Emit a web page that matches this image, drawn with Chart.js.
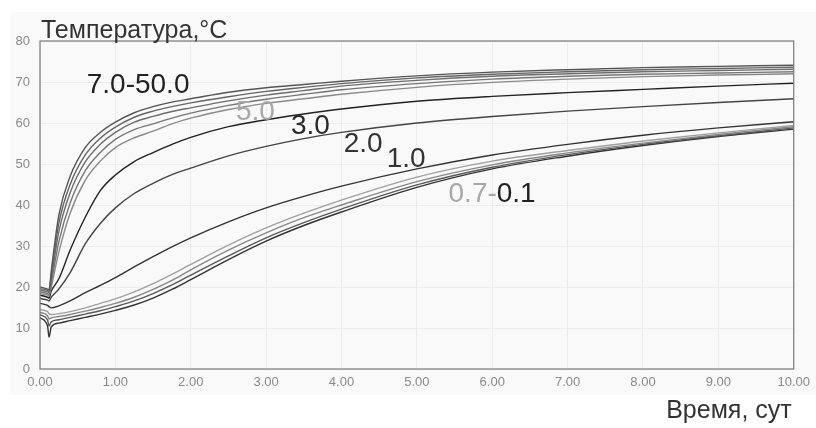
<!DOCTYPE html>
<html>
<head>
<meta charset="utf-8">
<script src="https://cdn.jsdelivr.net/npm/chart.js@4.4.0/dist/chart.umd.min.js"></script>
<style>
  html, body { margin: 0; padding: 0; background: #ffffff; }
  #wrap { width: 816px; height: 428px; }
</style>
</head>
<body>
<div id="wrap"><canvas id="c" width="816" height="428"></canvas></div>
<script>
// ---- data ----
const days = [0, 0.1, 0.12, 0.15, 0.25, 0.4, 0.6, 0.8, 1, 1.25, 1.5, 1.75, 2, 2.5, 3, 3.5, 4, 5, 6, 7, 8, 9, 10];

const t50 = [20.0, 19.5, 19.3, 24.0, 37.5, 47.0, 54.0, 57.7, 60.2, 62.5, 64.0, 65.1, 65.9, 67.5, 68.6, 69.4, 70.2, 71.5, 72.4, 73.0, 73.5, 73.8, 74.1];
const t20 = [19.6, 19.2, 19.0, 23.0, 35.5, 45.0, 52.2, 56.3, 59.0, 61.4, 62.9, 64.0, 64.9, 66.4, 67.7, 68.7, 69.6, 71.0, 71.9, 72.5, 73.0, 73.3, 73.6];
const t10 = [19.2, 18.8, 18.6, 22.0, 33.5, 43.0, 50.5, 54.8, 57.7, 60.2, 61.6, 62.8, 63.7, 65.4, 66.8, 67.9, 69.0, 70.4, 71.4, 72.0, 72.5, 72.8, 73.1];
const t7  = [18.8, 18.4, 18.2, 21.0, 31.0, 40.5, 48.3, 52.8, 56.0, 58.4, 59.8, 61.2, 62.4, 64.3, 65.8, 67.0, 68.1, 69.6, 70.7, 71.4, 71.9, 72.2, 72.5];
const c5  = [18.4, 18.0, 17.8, 20.0, 28.5, 38.0, 46.0, 50.7, 54.0, 56.4, 58.0, 59.8, 61.2, 63.3, 64.8, 65.9, 67.0, 68.7, 69.9, 70.7, 71.3, 71.7, 72.0];
const c3  = [18.0, 17.5, 17.3, 19.0, 22.0, 29.0, 37.0, 43.5, 47.3, 50.6, 52.8, 54.8, 56.5, 59.1, 60.8, 62.2, 63.4, 65.3, 66.5, 67.4, 68.2, 69.0, 69.7];
const c2  = [17.2, 16.8, 16.6, 17.5, 19.5, 23.5, 30.5, 35.5, 39.3, 42.8, 45.3, 47.4, 49.0, 52.0, 54.3, 56.2, 57.7, 60.0, 61.6, 62.9, 64.0, 65.0, 65.9];
const c1  = [16.0, 15.5, 15.2, 14.9, 15.4, 16.6, 18.6, 20.4, 22.3, 24.9, 27.4, 29.8, 32.0, 35.9, 39.3, 42.1, 44.6, 48.8, 52.2, 54.8, 57.0, 58.8, 60.3];
const b07 = [14.5, 14.0, 13.5, 13.3, 13.5, 14.0, 14.9, 16.0, 17.1, 18.8, 20.8, 23.1, 25.5, 30.2, 34.4, 38.0, 41.2, 46.8, 50.7, 53.3, 55.6, 57.6, 59.4];
const b05 = [13.8, 13.0, 12.2, 12.5, 12.8, 13.3, 14.1, 15.0, 16.0, 17.5, 19.4, 21.6, 24.2, 29.0, 33.2, 36.9, 40.0, 45.7, 49.8, 52.7, 55.1, 57.2, 59.1];
const b03 = [13.2, 12.0, 10.5, 11.5, 12.0, 12.6, 13.4, 14.2, 15.2, 16.6, 18.4, 20.5, 22.9, 27.6, 32.0, 35.7, 39.0, 44.9, 49.2, 52.3, 54.8, 56.9, 58.8];
const b01 = [12.5, 10.5, 7.8, 10.3, 11.2, 11.8, 12.6, 13.4, 14.3, 15.6, 17.3, 19.4, 21.8, 26.7, 31.2, 35.0, 38.3, 44.3, 48.8, 51.9, 54.5, 56.7, 58.5];

const seriesNames = ['50.0', '20.0', '10.0', '7.0', '5.0', '3.0', '2.0', '1.0', '0.7', '0.5', '0.3', '0.1'];
const seriesValues = [t50, t20, t10, t7, c5, c3, c2, c1, b07, b05, b03, b01];
const seriesColors = ['#555', '#666', '#6e6e6e', '#777', '#8a8a8a', '#222', '#444', '#333', '#a0a0a0', '#888', '#5a5a5a', '#333'];

const yTicks = [0, 10, 20, 30, 40, 50, 60, 70, 80];
const xTicks = [0, 1, 2, 3, 4, 5, 6, 7, 8, 9, 10];

// curve labels: text pieces, anchored at (day, temperature) of their left/baseline
const curveLabels = [
  { parts: [['7.0-50.0', '#222']], day: 0.62, temp: 67.3 },
  { parts: [['5.0', '#a8a8a8']], day: 2.6, temp: 60.7 },
  { parts: [['3.0', '#2a2a2a']], day: 3.33, temp: 57.2 },
  { parts: [['2.0', '#333']], day: 4.03, temp: 53.0 },
  { parts: [['1.0', '#333']], day: 4.6, temp: 49.3 },
  { parts: [['0.7-', '#a8a8a8'], ['0.1', '#222']], day: 5.42, temp: 40.8 }
];

const titleY = 'Температура,°C';
const titleX = 'Время, сут';

// ---- chart ----
const datasets = seriesNames.map((n, i) => ({
  label: n,
  data: days.map((d, j) => ({ x: d, y: seriesValues[i][j] })),
  borderColor: seriesColors[i],
  borderWidth: 1.4,
  pointRadius: 0,
  fill: false,
  cubicInterpolationMode: 'monotone'
}));

const decor = {
  id: 'decor',
  beforeDraw(chart) {
    const ctx = chart.ctx;
    ctx.save();
    ctx.fillStyle = '#ffffff';
    ctx.fillRect(0, 0, chart.width, chart.height);
    ctx.fillStyle = '#f9f9f9';
    ctx.fillRect(10, 12, chart.width - 10, 383);
    ctx.restore();
  },
  afterDatasetsDraw(chart) {
    const ctx = chart.ctx;
    const a = chart.chartArea;
    const xs = chart.scales.x, ys = chart.scales.y;
    ctx.save();
    // plot frame
    ctx.strokeStyle = '#7a7a7a';
    ctx.lineWidth = 1.2;
    ctx.strokeRect(a.left, a.top, a.right - a.left, a.bottom - a.top);
    // curve labels
    ctx.font = '28px "Liberation Sans", Arial, sans-serif';
    ctx.textBaseline = 'alphabetic';
    ctx.textAlign = 'left';
    curveLabels.forEach(l => {
      let px = xs.getPixelForValue(l.day);
      const py = ys.getPixelForValue(l.temp);
      l.parts.forEach(p => {
        ctx.fillStyle = p[1];
        ctx.fillText(p[0], px, py);
        px += ctx.measureText(p[0]).width;
      });
    });
    // axis titles
    ctx.fillStyle = '#333';
    ctx.font = '25px "Liberation Sans", Arial, sans-serif';
    ctx.fillText(titleY, a.left + 1, a.top - 3);
    ctx.textAlign = 'right';
    ctx.fillText(titleX, a.right - 2, 418);
    ctx.restore();
  }
};

new Chart(document.getElementById('c'), {
  type: 'line',
  data: { datasets },
  options: {
    responsive: false,
    animation: false,
    layout: { padding: { left: 6, top: 41, right: 19, bottom: 35 } },
    plugins: { legend: { display: false }, tooltip: { enabled: false } },
    scales: {
      x: {
        type: 'linear',
        min: 0, max: 10,
        afterFit(s) { s.height = 24; },
        afterBuildTicks(s) { s.ticks = xTicks.map(v => ({ value: v })); },
        ticks: {
          color: '#8a8a8a',
          font: { size: 13, family: 'Helvetica, "Liberation Sans", Arial, sans-serif' },
          padding: 6,
          maxRotation: 0,
          callback: v => Number(v).toFixed(2)
        },
        grid: { color: '#ececec', drawTicks: false },
        border: { display: false }
      },
      y: {
        min: 0, max: 80,
        afterFit(s) { s.width = 34; },
        afterBuildTicks(s) { s.ticks = yTicks.map(v => ({ value: v })); },
        ticks: {
          color: '#8a8a8a',
          font: { size: 13, family: 'Helvetica, "Liberation Sans", Arial, sans-serif' },
          padding: 10
        },
        grid: { color: '#ececec', drawTicks: false },
        border: { display: false }
      }
    }
  },
  plugins: [decor]
});
</script>
</body>
</html>
